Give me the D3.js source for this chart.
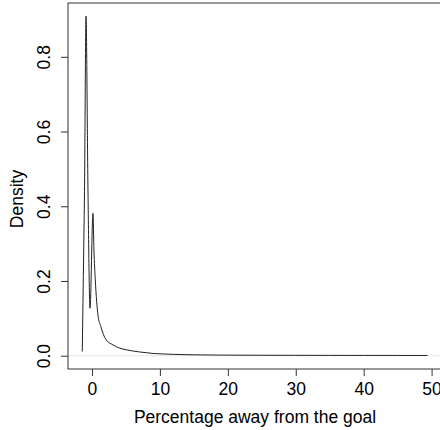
<!DOCTYPE html>
<html>
<head>
<meta charset="utf-8">
<script src="https://cdn.jsdelivr.net/npm/d3@7"></script>
<style>
  html, body { margin: 0; padding: 0; background: #fff; }
  svg { display: block; }
  text { font-family: "Liberation Sans", Arial, sans-serif; fill: #000; }
</style>
</head>
<body>
<div id="chart"></div>
<script>
const xValues = [-1.43, -1.22, -1.1, -0.88, -0.59, -0.29, 0.15, 0.29, 0.49, 0.88, 1.32, 2.06, 3.09, 4.12, 5, 6, 7, 8, 9, 10.5, 12, 14, 16, 18, 20, 25, 30, 35, 40, 45, 49.4];
const densityValues = [0.011, 0.28, 0.44, 0.909, 0.444, 0.127, 0.381, 0.283, 0.203, 0.109, 0.077, 0.043, 0.029, 0.020, 0.016, 0.0126, 0.010, 0.008, 0.006, 0.0046, 0.0036, 0.0027, 0.0022, 0.0018, 0.0015, 0.0012, 0.0010, 0.0009, 0.0008, 0.0007, 0.0006];
const xTicks = [0, 10, 20, 30, 40, 50];
const yTicks = [0.0, 0.2, 0.4, 0.6, 0.8];
const xLabel = "Percentage away from the goal";
const yLabel = "Density";

const W = 440, H = 430;
const mLeft = 68, mRight = 442, mTop = 3, mBottom = 369;
const FS = 17.5;

const svg = d3.select("#chart").append("svg").attr("width", W).attr("height", H);

const x = d3.scaleLinear().domain([-3.53, 51.53]).range([mLeft, mRight]);
const y = d3.scaleLinear().domain([-0.0356, 0.944]).range([mBottom, mTop]);

// zero line
svg.append("line")
  .attr("x1", mLeft).attr("x2", mRight)
  .attr("y1", y(0)).attr("y2", y(0))
  .attr("stroke", "#e4e4e4").attr("stroke-width", 1);

// density curve
const pts = xValues.map((v, i) => [v, densityValues[i]]);
svg.append("path")
  .datum(pts)
  .attr("fill", "none")
  .attr("stroke", "#222")
  .attr("stroke-width", 1)
  .attr("d", d3.line().x(d => x(d[0])).y(d => y(d[1])).curve(d3.curveMonotoneX));

// box
svg.append("rect")
  .attr("x", mLeft).attr("y", mTop)
  .attr("width", mRight - mLeft).attr("height", mBottom - mTop)
  .attr("fill", "none").attr("stroke", "#333").attr("stroke-width", 1);

// x axis
const xAxis = d3.axisBottom(x).tickValues(xTicks).tickSize(7).tickFormat(d3.format("d"));
const gx = svg.append("g").attr("transform", `translate(0,${mBottom})`).call(xAxis);
gx.select(".domain").remove();
gx.selectAll(".tick line").attr("stroke", "#333");
gx.selectAll(".tick text").attr("font-size", FS).attr("font-family", "Liberation Sans, Arial, sans-serif").attr("fill", "#000")
  .attr("dy", null).attr("y", 26);

// y axis
const yAxis = d3.axisLeft(y).tickValues(yTicks).tickSize(7).tickFormat(d3.format(".1f"));
const gy = svg.append("g").attr("transform", `translate(${mLeft},0)`).call(yAxis);
gy.select(".domain").remove();
gy.selectAll(".tick line").attr("stroke", "#333");
gy.selectAll(".tick text")
  .attr("font-size", FS).attr("font-family", "Liberation Sans, Arial, sans-serif").attr("fill", "#000")
  .attr("x", null).attr("dy", null)
  .attr("text-anchor", "middle")
  .attr("transform", "translate(-18,0) rotate(-90)");

// axis labels
svg.append("text")
  .attr("x", (mLeft + mRight) / 2).attr("y", 423)
  .attr("text-anchor", "middle").attr("font-size", FS)
  .text(xLabel);

svg.append("text")
  .attr("transform", `translate(23,199) rotate(-90)`)
  .attr("text-anchor", "middle").attr("font-size", FS)
  .text(yLabel);
</script>
</body>
</html>
